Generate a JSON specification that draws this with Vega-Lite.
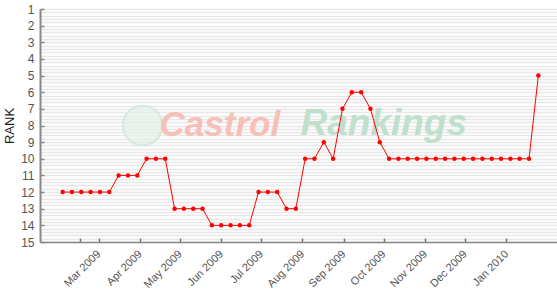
{
  "$schema": "https://vega.github.io/schema/vega-lite/v6.json",
  "width": 517,
  "height": 233,
  "autosize": {"type": "none"},
  "padding": {"left": 40, "top": 9, "right": 0, "bottom": 54},
  "background": "white",
  "config": {"view": {"stroke": null}, "font": "Liberation Sans"},
  "data": {"values": [
    {"date": "2009-02-02", "rank": 12}, {"date": "2009-02-09", "rank": 12}, {"date": "2009-02-16", "rank": 12}, {"date": "2009-02-23", "rank": 12},
    {"date": "2009-03-02", "rank": 12}, {"date": "2009-03-09", "rank": 12}, {"date": "2009-03-16", "rank": 11}, {"date": "2009-03-23", "rank": 11},
    {"date": "2009-03-30", "rank": 11}, {"date": "2009-04-06", "rank": 10}, {"date": "2009-04-13", "rank": 10}, {"date": "2009-04-20", "rank": 10},
    {"date": "2009-04-27", "rank": 13}, {"date": "2009-05-04", "rank": 13}, {"date": "2009-05-11", "rank": 13}, {"date": "2009-05-18", "rank": 13},
    {"date": "2009-05-25", "rank": 14}, {"date": "2009-06-01", "rank": 14}, {"date": "2009-06-08", "rank": 14}, {"date": "2009-06-15", "rank": 14},
    {"date": "2009-06-22", "rank": 14}, {"date": "2009-06-29", "rank": 12}, {"date": "2009-07-06", "rank": 12}, {"date": "2009-07-13", "rank": 12},
    {"date": "2009-07-20", "rank": 13}, {"date": "2009-07-27", "rank": 13}, {"date": "2009-08-03", "rank": 10}, {"date": "2009-08-10", "rank": 10},
    {"date": "2009-08-17", "rank": 9}, {"date": "2009-08-24", "rank": 10}, {"date": "2009-08-31", "rank": 7}, {"date": "2009-09-07", "rank": 6},
    {"date": "2009-09-14", "rank": 6}, {"date": "2009-09-21", "rank": 7}, {"date": "2009-09-28", "rank": 9}, {"date": "2009-10-05", "rank": 10},
    {"date": "2009-10-12", "rank": 10}, {"date": "2009-10-19", "rank": 10}, {"date": "2009-10-26", "rank": 10}, {"date": "2009-11-02", "rank": 10},
    {"date": "2009-11-09", "rank": 10}, {"date": "2009-11-16", "rank": 10}, {"date": "2009-11-23", "rank": 10}, {"date": "2009-11-30", "rank": 10},
    {"date": "2009-12-07", "rank": 10}, {"date": "2009-12-14", "rank": 10}, {"date": "2009-12-21", "rank": 10}, {"date": "2009-12-28", "rank": 10},
    {"date": "2010-01-04", "rank": 10}, {"date": "2010-01-11", "rank": 10}, {"date": "2010-01-18", "rank": 10}, {"date": "2010-01-25", "rank": 5}
  ]},
  "resolve": {"axis": {"x": "independent", "y": "independent"}},
  "layer": [
    {
      "data": {"values": [{}]},
      "mark": {"type": "point", "filled": true, "size": 1550, "fill": "#e4f1e9", "stroke": "#cae4d5", "strokeWidth": 2},
      "encoding": {
        "x": {"datum": {"year": 2009, "month": 4, "date": 3}, "type": "temporal",
              "scale": {"domain": [{"year": 2009, "month": 1, "date": 16}, {"year": 2010, "month": 2, "date": 8}]}, "axis": null},
        "y": {"datum": 8, "type": "quantitative",
              "scale": {"domain": [1, 15], "reverse": true, "nice": false, "zero": false},
              "axis": {"orient": "right", "grid": true, "gridColor": "#e8e8e8", "gridWidth": 1.5, "labels": false, "ticks": false, "domain": false, "title": null,
                "values": [1,1.2,1.4,1.6,1.8,2,2.2,2.4,2.6,2.8,3,3.2,3.4,3.6,3.8,4,4.2,4.4,4.6,4.8,5,5.2,5.4,5.6,5.8,6,6.2,6.4,6.6,6.8,7,7.2,7.4,7.6,7.8,8,8.2,8.4,8.6,8.8,9,9.2,9.4,9.6,9.8,10,10.2,10.4,10.6,10.8,11,11.2,11.4,11.6,11.8,12,12.2,12.4,12.6,12.8,13,13.2,13.4,13.6,13.8,14,14.2,14.4,14.6,14.8,15]}}
      }
    },
    {
      "data": {"values": [{}]},
      "mark": {"type": "text", "text": "Castrol", "font": "Liberation Sans", "fontWeight": "bold", "fontStyle": "italic", "fontSize": 35, "color": "#f6bfb7", "align": "center", "baseline": "alphabetic"},
      "encoding": {
        "x": {"datum": {"year": 2009, "month": 5, "date": 31}, "type": "temporal",
              "scale": {"domain": [{"year": 2009, "month": 1, "date": 16}, {"year": 2010, "month": 2, "date": 8}]}, "axis": null},
        "y": {"datum": 8.63, "type": "quantitative", "scale": {"domain": [1, 15], "reverse": true, "nice": false, "zero": false}, "axis": null}
      }
    },
    {
      "data": {"values": [{}]},
      "mark": {"type": "text", "text": "Rankings", "font": "Liberation Sans", "fontWeight": "bold", "fontStyle": "italic", "fontSize": 37, "color": "#c0e0cd", "align": "center", "baseline": "alphabetic"},
      "encoding": {
        "x": {"datum": {"year": 2009, "month": 10, "date": 1}, "type": "temporal",
              "scale": {"domain": [{"year": 2009, "month": 1, "date": 16}, {"year": 2010, "month": 2, "date": 8}]}, "axis": null},
        "y": {"datum": 8.57, "type": "quantitative", "scale": {"domain": [1, 15], "reverse": true, "nice": false, "zero": false}, "axis": null}
      }
    },
    {
      "mark": {"type": "line", "color": "#ff0000", "strokeWidth": 1, "point": {"filled": true, "size": 20, "color": "#ff0000"}},
      "encoding": {
        "x": {"field": "date", "type": "temporal",
              "scale": {"domain": [{"year": 2009, "month": 1, "date": 16}, {"year": 2010, "month": 2, "date": 8}]},
              "axis": {"title": null, "grid": false,
                "values": [{"year": 2009, "month": 2, "date": 15}, {"year": 2009, "month": 3, "date": 1}, {"year": 2009, "month": 4, "date": 1}, {"year": 2009, "month": 5, "date": 1}, {"year": 2009, "month": 6, "date": 1}, {"year": 2009, "month": 7, "date": 1}, {"year": 2009, "month": 8, "date": 1}, {"year": 2009, "month": 9, "date": 1}, {"year": 2009, "month": 10, "date": 1}, {"year": 2009, "month": 11, "date": 1}, {"year": 2009, "month": 12, "date": 1}, {"year": 2010, "month": 1, "date": 1}],
                "labelExpr": "month(datum.value) == 1 ? '' : timeFormat(datum.value, '%b %Y')",
                "labelAngle": -45, "labelAlign": "right", "labelBaseline": "middle", "labelFontSize": 11, "labelColor": "#555555",
                "labelOverlap": false, "labelFlush": false, "labelPadding": 14,
                "tickSize": -4, "tickColor": "#777777", "tickWidth": 1.5, "domainColor": "#888888", "domainWidth": 1.5}},
        "y": {"field": "rank", "type": "quantitative",
              "scale": {"domain": [1, 15], "reverse": true, "nice": false, "zero": false},
              "axis": {"orient": "left", "grid": false, "values": [1,2,3,4,5,6,7,8,9,10,11,12,13,14,15],
                "labelFontSize": 12, "labelColor": "#555555", "labelPadding": 10,
                "tickSize": -4, "tickColor": "#888888", "tickWidth": 1.5, "domainColor": "#888888", "domainWidth": 2,
                "title": "RANK", "titleFontSize": 13, "titleFontWeight": "normal", "titleColor": "#222222", "titlePadding": 4}}
      }
    }
  ]
}
